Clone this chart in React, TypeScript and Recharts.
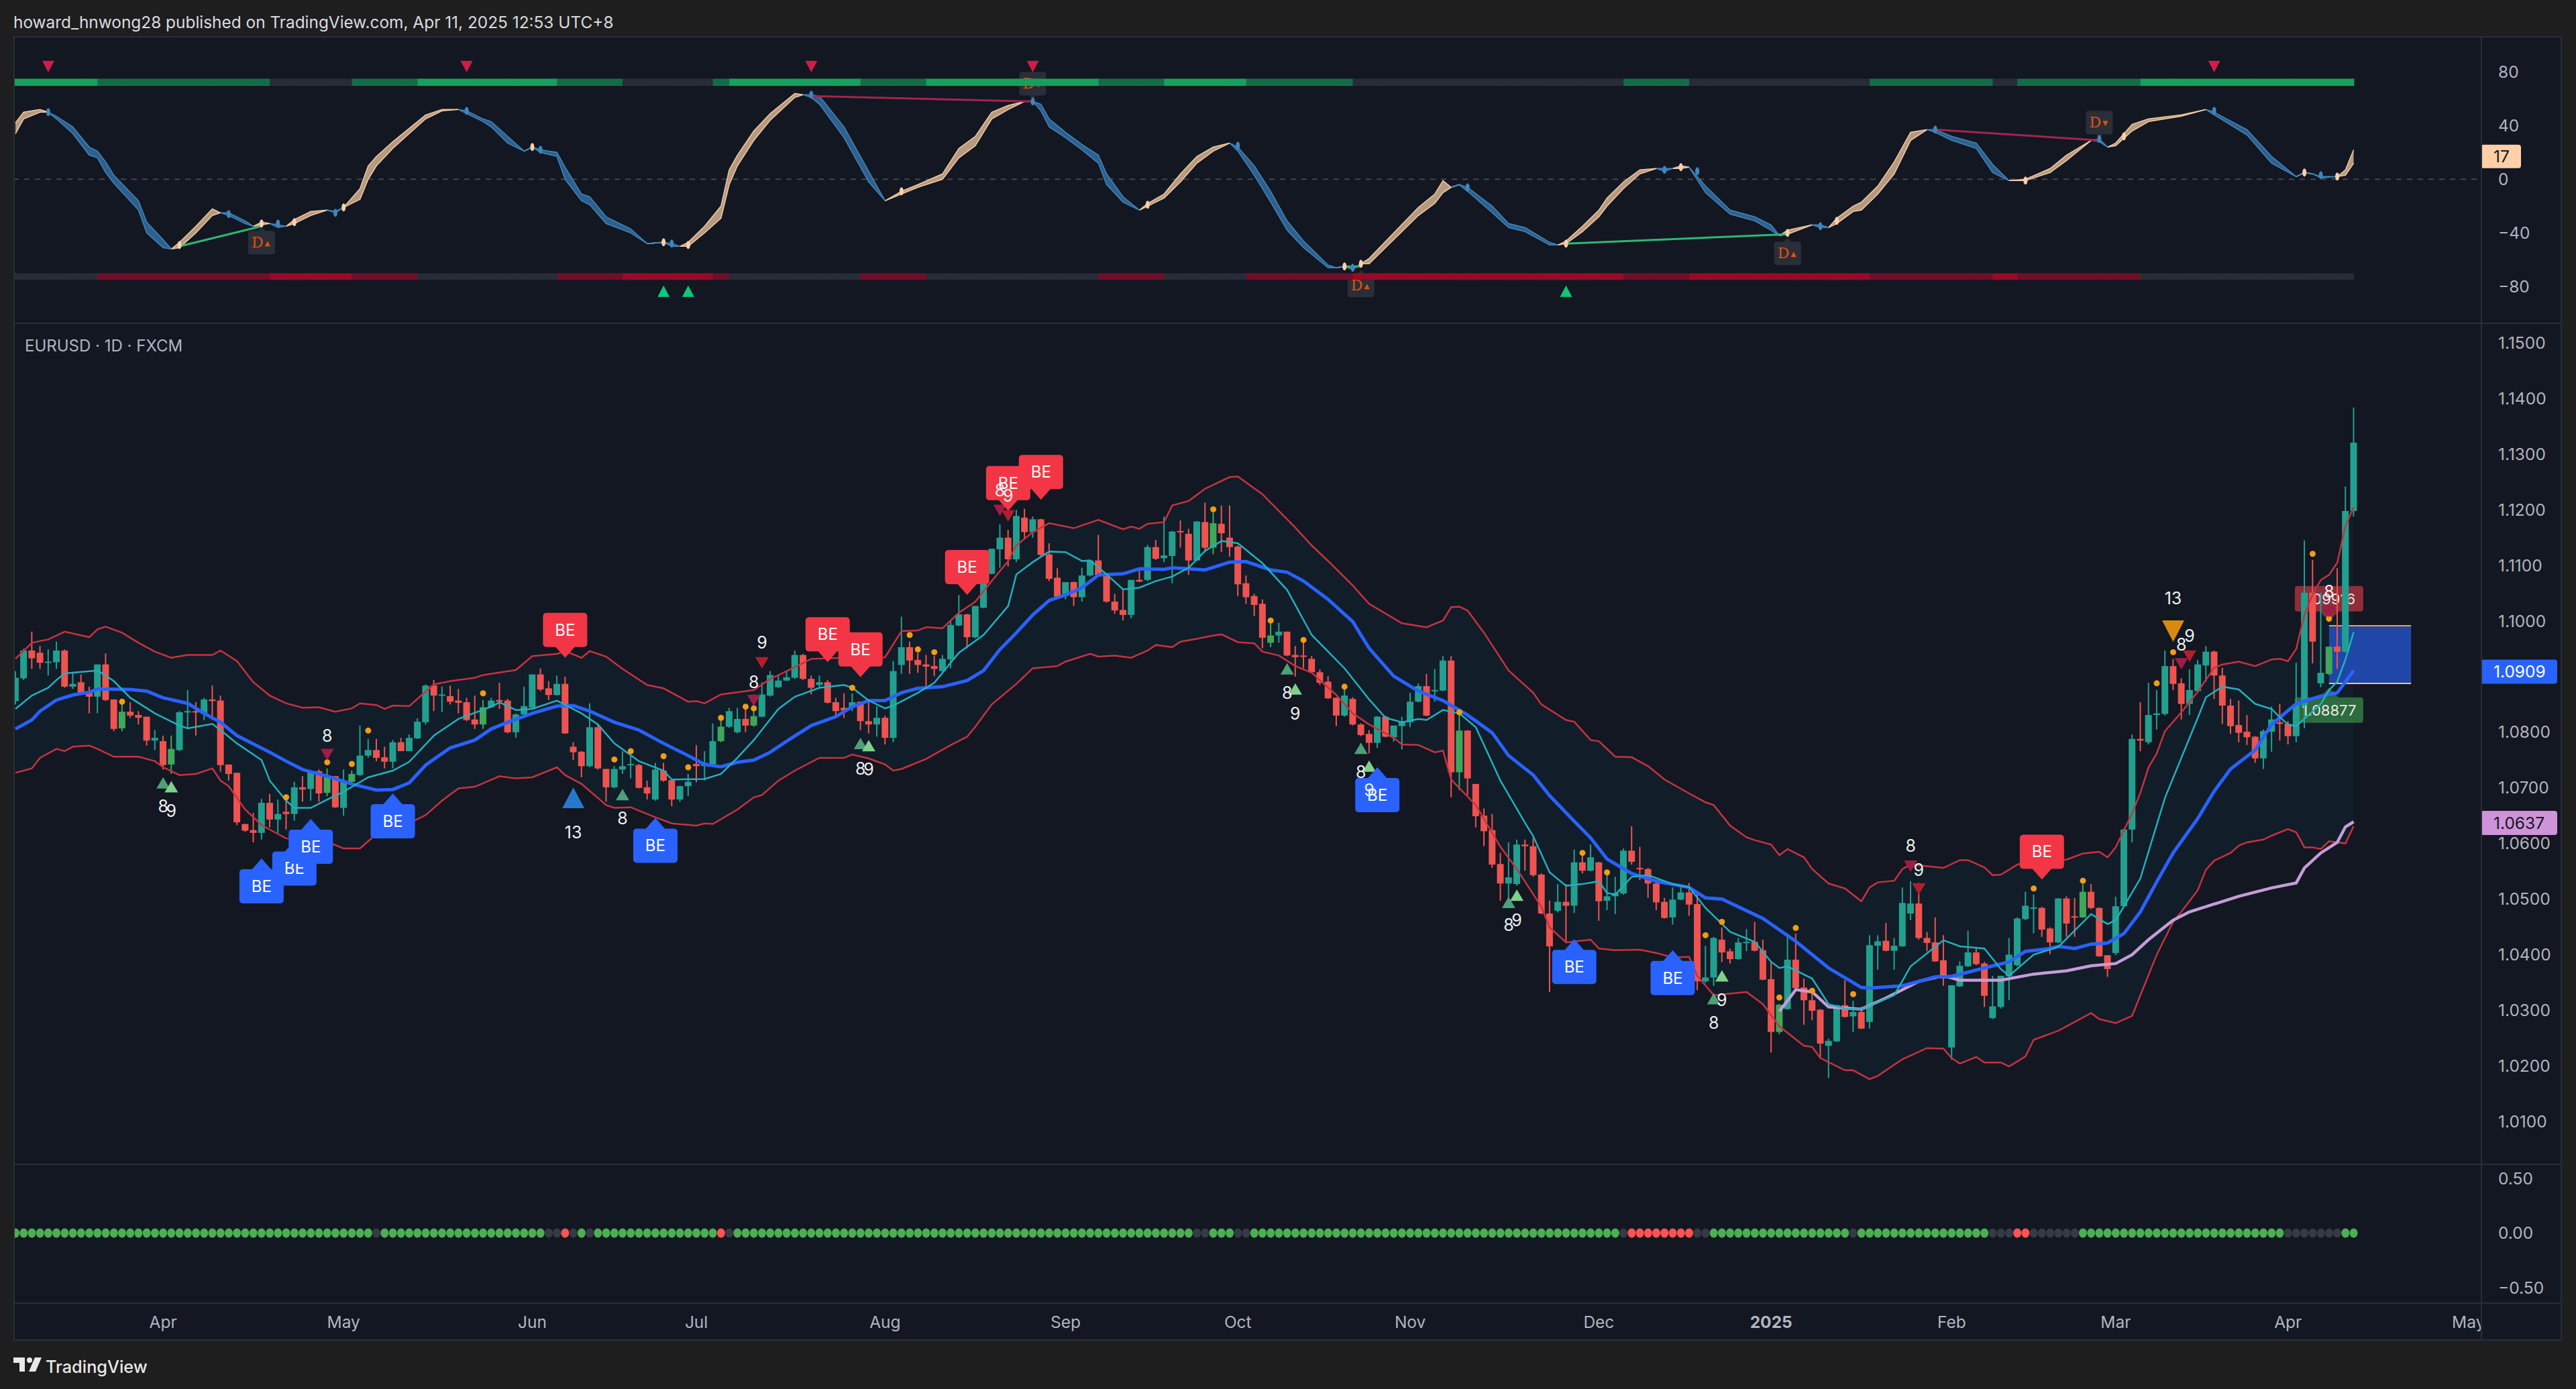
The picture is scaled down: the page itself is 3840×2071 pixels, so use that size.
import {
  Area,
  Bar,
  ComposedChart,
  Line,
  ReferenceArea,
  ReferenceDot,
  ReferenceLine,
  XAxis,
  YAxis,
} from "recharts";

// EURUSD daily, prices are written in 1/10000 (10856 = 1.0856)
const opens = [
  10856, 10897, 10947, 10943, 10926, 10926, 10947, 10882, 10890, 10872, 10864, 10922, 10859, 10807, 10837, 10831, 10828, 10785, 10784, 10742,
  10768, 10836, 10838, 10833, 10859, 10857, 10742, 10727, 10635, 10624, 10619, 10673, 10643, 10657, 10653, 10701, 10698, 10730, 10691, 10721,
  10664, 10711, 10723, 10758, 10768, 10755, 10747, 10782, 10766, 10789, 10818, 10884, 10867, 10865, 10857, 10854, 10823, 10814, 10845, 10858,
  10857, 10800, 10832, 10844, 10904, 10879, 10867, 10887, 10774, 10765, 10739, 10809, 10734, 10701, 10733, 10741, 10741, 10701, 10679, 10731,
  10714, 10679, 10703, 10743, 10739, 10739, 10784, 10810, 10800, 10824, 10812, 10828, 10866, 10881, 10893, 10898, 10939, 10896, 10885, 10890,
  10854, 10844, 10845, 10855, 10820, 10814, 10826, 10790, 10921, 10953, 10930, 10922, 10919, 10910, 10931, 10992, 11012, 10971, 11024, 11085,
  11129, 11150, 11111, 11186, 11160, 11183, 11120, 11078, 11045, 11070, 11043, 11082, 11109, 11084, 11035, 11020, 11011, 11074, 11074, 11133,
  11113, 11117, 11162, 11157, 11109, 11178, 11132, 11175, 11150, 11134, 11068, 11045, 11031, 10961, 10974, 10981, 10939, 10938, 10932, 10908,
  10891, 10862, 10830, 10860, 10814, 10797, 10781, 10828, 10791, 10811, 10818, 10855, 10883, 10874, 10875, 10929, 10728, 10803, 10707, 10650,
  10624, 10563, 10528, 10527, 10598, 10595, 10544, 10474, 10479, 10495, 10488, 10566, 10551, 10566, 10497, 10505, 10510, 10587, 10556, 10554,
  10528, 10495, 10467, 10499, 10512, 10491, 10352, 10359, 10427, 10406, 10392, 10421, 10423, 10408, 10356, 10261, 10302, 10391, 10341, 10318,
  10301, 10236, 10244, 10309, 10289, 10297, 10279, 10416, 10425, 10407, 10415, 10474, 10492, 10430, 10422, 10390, 10233, 10343, 10379, 10404,
  10384, 10286, 10306, 10361, 10381, 10464, 10484, 10484, 10447, 10422, 10501, 10469, 10467, 10513, 10484, 10399, 10403, 10487, 10625, 10788,
  10782, 10831, 10833, 10919, 10888, 10851, 10874, 10920, 10945, 10902, 10848, 10813, 10801, 10792, 10753, 10801, 10818, 10815, 10793, 10848,
  11051, 10888, 10905, 10954, 10945, 11198,
];
const closes = [
  10898, 10947, 10933, 10925, 10927, 10947, 10882, 10887, 10870, 10864, 10922, 10858, 10806, 10837, 10830, 10826, 10785, 10790, 10741, 10770,
  10836, 10838, 10837, 10859, 10856, 10741, 10725, 10638, 10623, 10619, 10673, 10643, 10653, 10653, 10701, 10697, 10730, 10690, 10721, 10665,
  10711, 10725, 10758, 10768, 10754, 10747, 10782, 10766, 10790, 10819, 10884, 10866, 10868, 10855, 10853, 10822, 10814, 10845, 10857, 10855,
  10800, 10832, 10847, 10904, 10877, 10867, 10887, 10798, 10764, 10739, 10809, 10735, 10701, 10734, 10739, 10743, 10700, 10690, 10733, 10713,
  10679, 10703, 10711, 10739, 10745, 10784, 10810, 10838, 10824, 10812, 10829, 10868, 10903, 10893, 10899, 10939, 10896, 10880, 10890, 10853,
  10838, 10839, 10854, 10820, 10814, 10826, 10790, 10910, 10953, 10929, 10921, 10918, 10914, 10932, 10993, 11012, 10971, 11027, 11085, 11130,
  11150, 11111, 11189, 11160, 11183, 11119, 11076, 11044, 11070, 11043, 11082, 11109, 11083, 11035, 11019, 11011, 11074, 11071, 11133, 11112,
  11118, 11161, 11160, 11109, 11179, 11132, 11176, 11158, 11133, 11066, 11043, 11029, 10970, 10974, 10981, 10938, 10935, 10936, 10908, 10889,
  10861, 10830, 10866, 10814, 10795, 10781, 10828, 10792, 10812, 10819, 10855, 10883, 10830, 10876, 10929, 10728, 10803, 10717, 10649, 10622,
  10562, 10528, 10539, 10598, 10595, 10543, 10474, 10415, 10495, 10488, 10566, 10551, 10575, 10496, 10505, 10511, 10587, 10567, 10555, 10528,
  10494, 10466, 10499, 10512, 10490, 10352, 10359, 10430, 10404, 10392, 10422, 10423, 10407, 10355, 10261, 10310, 10391, 10340, 10318, 10299,
  10240, 10245, 10309, 10288, 10297, 10267, 10417, 10424, 10407, 10416, 10493, 10492, 10430, 10421, 10388, 10357, 10345, 10380, 10404, 10383,
  10326, 10307, 10362, 10400, 10465, 10488, 10485, 10445, 10422, 10501, 10456, 10467, 10513, 10484, 10397, 10374, 10487, 10625, 10788, 10785,
  10831, 10834, 10919, 10887, 10851, 10876, 10922, 10945, 10902, 10848, 10811, 10799, 10791, 10753, 10802, 10823, 10815, 10793, 10850, 11051,
  10963, 10907, 10954, 10945, 11198, 11321,
];
const highs = [
  10910, 10950, 10981, 10955, 10949, 10963, 10949, 10906, 10904, 10882, 10922, 10942, 10859, 10858, 10854, 10838, 10828, 10804, 10794, 10794,
  10838, 10876, 10854, 10862, 10884, 10866, 10742, 10727, 10635, 10655, 10680, 10689, 10679, 10687, 10711, 10721, 10731, 10733, 10735, 10721,
  10733, 10731, 10812, 10788, 10788, 10774, 10786, 10790, 10796, 10825, 10886, 10894, 10882, 10884, 10878, 10862, 10866, 10858, 10862, 10889,
  10860, 10834, 10882, 10904, 10915, 10892, 10902, 10900, 10782, 10766, 10852, 10816, 10734, 10739, 10766, 10758, 10743, 10713, 10745, 10745,
  10715, 10704, 10725, 10777, 10766, 10816, 10830, 10844, 10844, 10842, 10868, 10890, 10910, 10902, 10910, 10947, 10941, 10902, 10902, 10894,
  10862, 10870, 10870, 10855, 10858, 10847, 10830, 10928, 11008, 10963, 10943, 10939, 10937, 10939, 11001, 11047, 11013, 11027, 11088, 11130,
  11174, 11164, 11200, 11202, 11188, 11184, 11140, 11095, 11070, 11071, 11096, 11110, 11155, 11085, 11049, 11056, 11074, 11093, 11137, 11146,
  11188, 11162, 11181, 11166, 11180, 11213, 11196, 11208, 11208, 11136, 11082, 11049, 11039, 10999, 10997, 10981, 10955, 10963, 10937, 10913,
  10901, 10863, 10877, 10863, 10816, 10804, 10829, 10830, 10812, 10828, 10871, 10888, 10905, 10914, 10937, 10937, 10839, 10804, 10707, 10663,
  10653, 10583, 10602, 10607, 10607, 10610, 10546, 10497, 10527, 10527, 10589, 10578, 10598, 10567, 10551, 10540, 10591, 10631, 10594, 10556,
  10535, 10502, 10521, 10524, 10529, 10513, 10416, 10432, 10449, 10411, 10430, 10446, 10459, 10427, 10387, 10311, 10438, 10438, 10357, 10330,
  10302, 10249, 10310, 10354, 10317, 10306, 10435, 10435, 10457, 10430, 10521, 10532, 10529, 10441, 10467, 10435, 10345, 10388, 10443, 10414,
  10387, 10362, 10362, 10430, 10467, 10513, 10508, 10486, 10449, 10502, 10505, 10502, 10527, 10527, 10485, 10399, 10504, 10627, 10796, 10854,
  10889, 10876, 10947, 10932, 10897, 10913, 10930, 10955, 10947, 10916, 10860, 10857, 10831, 10793, 10805, 10846, 10851, 10820, 10925, 11145,
  11110, 11051, 10954, 11095, 11242, 11384,
];
const lows = [
  10850, 10894, 10914, 10914, 10902, 10914, 10880, 10878, 10868, 10834, 10834, 10856, 10802, 10802, 10826, 10814, 10776, 10768, 10733, 10725,
  10766, 10806, 10794, 10822, 10822, 10729, 10713, 10633, 10621, 10602, 10607, 10629, 10619, 10625, 10641, 10675, 10677, 10675, 10685, 10664,
  10650, 10708, 10721, 10754, 10748, 10735, 10735, 10766, 10766, 10788, 10814, 10838, 10836, 10850, 10834, 10820, 10806, 10806, 10844, 10842,
  10798, 10790, 10830, 10842, 10874, 10858, 10866, 10797, 10750, 10719, 10737, 10733, 10675, 10699, 10725, 10717, 10699, 10679, 10677, 10711,
  10667, 10675, 10685, 10710, 10713, 10737, 10782, 10808, 10798, 10800, 10810, 10827, 10864, 10880, 10892, 10896, 10894, 10868, 10880, 10852,
  10828, 10826, 10838, 10804, 10798, 10792, 10778, 10782, 10905, 10905, 10907, 10883, 10901, 10909, 10915, 10991, 10951, 10969, 11023, 11084,
  11096, 11098, 11106, 11148, 11150, 11116, 11072, 11043, 11039, 11027, 11035, 11080, 11082, 11033, 11013, 11001, 11005, 11070, 11072, 11110,
  11106, 11068, 11132, 11083, 11108, 11126, 11120, 11124, 11116, 11045, 11031, 11009, 10951, 10953, 10961, 10937, 10900, 10915, 10907, 10885,
  10860, 10811, 10828, 10812, 10793, 10762, 10772, 10791, 10783, 10769, 10809, 10854, 10829, 10855, 10874, 10683, 10696, 10687, 10629, 10595,
  10556, 10497, 10494, 10524, 10551, 10540, 10473, 10333, 10476, 10422, 10475, 10546, 10550, 10461, 10480, 10473, 10508, 10562, 10534, 10502,
  10480, 10465, 10454, 10498, 10470, 10336, 10349, 10344, 10387, 10384, 10391, 10406, 10406, 10354, 10224, 10257, 10301, 10338, 10274, 10282,
  10214, 10178, 10243, 10287, 10261, 10266, 10267, 10373, 10406, 10373, 10414, 10462, 10427, 10406, 10387, 10344, 10211, 10342, 10378, 10381,
  10306, 10284, 10303, 10318, 10379, 10462, 10438, 10432, 10401, 10421, 10432, 10432, 10466, 10482, 10396, 10360, 10399, 10486, 10602, 10766,
  10778, 10805, 10830, 10876, 10823, 10831, 10873, 10891, 10860, 10815, 10797, 10782, 10777, 10745, 10734, 10765, 10785, 10778, 10782, 10807,
  10924, 10881, 10903, 10914, 10943, 11188,
];
// candles drawn in the lighter green
const brightBars = [13, 19, 38, 41, 57, 86, 90, 146, 153, 176, 215, 252, 282];

type Pt = [number, number];

const upperBand: Pt[] = [
  [0, 10932], [2, 10961], [4, 10967], [6, 10981], [9, 10971], [10, 10985], [11, 10990], [13, 10979], [15, 10961], [17, 10945], [19, 10934], [21, 10939],
  [24, 10939], [25, 10947], [27, 10928], [29, 10890], [31, 10866], [33, 10852], [35, 10844], [37, 10845], [39, 10837], [41, 10843], [42, 10852], [44, 10849],
  [45, 10842], [46, 10848], [48, 10847], [49, 10860], [51, 10886], [53, 10892], [56, 10898], [57, 10903], [61, 10912], [63, 10937], [66, 10941], [67, 10946],
  [69, 10934], [70, 10946], [72, 10936], [74, 10914], [77, 10885], [79, 10879], [82, 10855], [83, 10856], [84, 10852], [86, 10868], [89, 10874], [90, 10876],
  [92, 10896], [94, 10910], [97, 10932], [101, 10934], [106, 10935], [108, 10982], [110, 10983], [111, 10989], [113, 10987], [114, 11001], [115, 11015],
  [117, 11035], [119, 11072], [121, 11108], [122, 11136], [124, 11160], [126, 11176], [129, 11167], [132, 11182], [135, 11165], [136, 11170], [137, 11166],
  [138, 11175], [140, 11178], [141, 11208], [143, 11216], [145, 11238], [148, 11259], [149, 11260], [152, 11228], [156, 11168], [158, 11136], [160, 11108],
  [163, 11064], [165, 11031], [169, 10996], [172, 10989], [174, 11001], [175, 11025], [176, 11026], [177, 11019], [179, 10979], [182, 10911], [185, 10871],
  [186, 10850], [189, 10822], [190, 10819], [192, 10786], [193, 10784], [195, 10756], [197, 10755], [199, 10739], [201, 10715], [204, 10690], [206, 10674],
  [207, 10669], [209, 10632], [211, 10611], [212, 10606], [214, 10598], [215, 10579], [216, 10590], [218, 10575], [219, 10554], [221, 10528], [223, 10519],
  [225, 10496], [226, 10521], [227, 10530], [229, 10533], [230, 10554], [231, 10562], [235, 10556], [237, 10570], [238, 10570], [240, 10557], [241, 10543],
  [242, 10544], [244, 10562], [246, 10570], [250, 10571], [252, 10582], [254, 10585], [255, 10575], [256, 10593], [258, 10654], [259, 10691], [260, 10737],
  [261, 10762], [262, 10802], [264, 10836], [266, 10873], [268, 10916], [269, 10922], [271, 10927], [273, 10919], [275, 10931], [276, 10932], [277, 10928],
  [278, 10950], [279, 11011], [280, 11048], [281, 11074], [282, 11083], [283, 11105], [284, 11171], [285, 11205],
];
const lowerBand: Pt[] = [
  [0, 10727], [2, 10735], [3, 10754], [5, 10770], [6, 10766], [7, 10774], [9, 10776], [10, 10770], [12, 10756], [15, 10756], [17, 10748], [18, 10737],
  [20, 10723], [22, 10725], [24, 10735], [25, 10713], [26, 10703], [28, 10661], [30, 10633], [32, 10617], [33, 10609], [35, 10608], [37, 10602], [38, 10603],
  [40, 10591], [42, 10591], [44, 10617], [47, 10629], [50, 10651], [52, 10677], [54, 10699], [56, 10702], [59, 10721], [61, 10717], [63, 10719], [66, 10737],
  [67, 10723], [69, 10707], [72, 10669], [73, 10664], [75, 10665], [78, 10647], [80, 10636], [83, 10632], [84, 10636], [85, 10635], [88, 10661], [90, 10683],
  [91, 10687], [93, 10713], [95, 10731], [98, 10754], [101, 10754], [102, 10760], [104, 10753], [106, 10742], [107, 10731], [108, 10734], [111, 10752],
  [114, 10777], [116, 10792], [117, 10810], [119, 10850], [122, 10887], [124, 10915], [127, 10919], [128, 10927], [131, 10941], [132, 10936], [134, 10938],
  [136, 10934], [138, 10947], [139, 10957], [141, 10953], [142, 10963], [144, 10968], [146, 10974], [147, 10976], [149, 10962], [151, 10960], [152, 10945],
  [154, 10938], [156, 10919], [158, 10907], [161, 10867], [163, 10834], [165, 10814], [168, 10790], [169, 10778], [171, 10777], [173, 10764], [174, 10767],
  [175, 10715], [178, 10669], [181, 10594], [183, 10554], [186, 10486], [187, 10449], [189, 10422], [192, 10427], [193, 10411], [195, 10408], [198, 10409],
  [200, 10403], [202, 10395], [204, 10396], [205, 10362], [207, 10327], [211, 10333], [213, 10311], [215, 10271], [218, 10236], [219, 10234], [220, 10214],
  [223, 10192], [224, 10192], [226, 10176], [227, 10182], [230, 10212], [233, 10232], [235, 10231], [236, 10214], [237, 10204], [239, 10216], [240, 10206],
  [242, 10206], [243, 10199], [245, 10217], [246, 10247], [249, 10263], [253, 10295], [254, 10284], [256, 10277], [258, 10290], [261, 10400], [263, 10459],
  [264, 10477], [266, 10516], [267, 10553], [268, 10569], [270, 10583], [271, 10596], [272, 10602], [274, 10607], [275, 10614], [277, 10626], [278, 10620],
  [279, 10593], [280, 10593], [281, 10590], [282, 10604], [284, 10600], [285, 10631],
];
const basisLine: Pt[] = [
  [0, 10806], [2, 10822], [3, 10838], [5, 10858], [7, 10867], [9, 10872], [10, 10878], [14, 10877], [16, 10874], [18, 10862], [21, 10852], [23, 10834],
  [25, 10818], [27, 10794], [31, 10764], [33, 10748], [35, 10733], [38, 10721], [41, 10707], [44, 10696], [46, 10697], [48, 10709], [50, 10741], [53, 10772],
  [56, 10786], [58, 10806], [60, 10818], [63, 10834], [66, 10847], [68, 10848], [70, 10838], [73, 10818], [76, 10804], [79, 10780], [82, 10758], [84, 10742],
  [86, 10738], [88, 10746], [90, 10750], [92, 10764], [94, 10784], [97, 10812], [100, 10828], [102, 10846], [104, 10857], [106, 10857], [108, 10871], [110, 10879],
  [113, 10882], [116, 10893], [118, 10911], [120, 10949], [122, 10979], [124, 11011], [126, 11037], [128, 11047], [130, 11060], [132, 11083], [135, 11085],
  [137, 11094], [140, 11093], [141, 11096], [145, 11092], [148, 11106], [150, 11107], [153, 11092], [155, 11088], [157, 11072], [160, 11039], [163, 10999],
  [165, 10951], [168, 10901], [171, 10874], [174, 10857], [177, 10831], [180, 10799], [182, 10758], [185, 10723], [187, 10686], [190, 10640], [192, 10610],
  [194, 10572], [197, 10546], [200, 10532], [204, 10521], [206, 10502], [208, 10500], [213, 10465], [217, 10424], [221, 10376], [225, 10341], [226, 10340],
  [230, 10344], [234, 10360], [236, 10361], [240, 10376], [243, 10387], [245, 10406], [248, 10411], [249, 10415], [251, 10411], [253, 10419], [255, 10421],
  [257, 10438], [259, 10477], [261, 10531], [263, 10583], [266, 10645], [268, 10694], [270, 10734], [273, 10768], [275, 10814], [277, 10839], [278, 10851],
  [281, 10865], [283, 10871], [284, 10891], [285, 10911],
];
const fastLine: Pt[] = [
  [0, 10842], [2, 10866], [4, 10880], [5, 10894], [6, 10906], [10, 10911], [11, 10902], [12, 10892], [14, 10862], [17, 10834], [20, 10812], [21, 10807],
  [24, 10815], [25, 10804], [27, 10780], [30, 10750], [31, 10713], [33, 10677], [34, 10664], [36, 10664], [38, 10679], [40, 10693], [43, 10719], [46, 10731],
  [48, 10747], [51, 10794], [54, 10824], [58, 10846], [59, 10854], [61, 10840], [63, 10842], [66, 10857], [69, 10834], [71, 10814], [73, 10780], [76, 10748],
  [79, 10731], [80, 10715], [84, 10716], [86, 10725], [88, 10754], [90, 10786], [93, 10842], [95, 10864], [98, 10880], [101, 10885], [102, 10880], [104, 10857],
  [106, 10843], [107, 10848], [110, 10871], [112, 10889], [115, 10943], [118, 10975], [121, 11027], [122, 11084], [124, 11106], [126, 11125], [128, 11124],
  [130, 11108], [131, 11109], [133, 11084], [135, 11057], [137, 11060], [139, 11072], [141, 11080], [143, 11096], [145, 11126], [147, 11144], [149, 11140],
  [152, 11104], [155, 11056], [158, 10975], [162, 10915], [165, 10859], [167, 10826], [169, 10818], [171, 10824], [172, 10822], [174, 10840], [176, 10834],
  [178, 10809], [181, 10713], [184, 10637], [185, 10613], [187, 10548], [189, 10524], [191, 10527], [193, 10532], [194, 10511], [195, 10508], [197, 10540],
  [199, 10543], [202, 10527], [204, 10521], [206, 10484], [209, 10441], [212, 10423], [214, 10387], [215, 10376], [216, 10379], [219, 10357], [221, 10311],
  [223, 10303], [225, 10302], [229, 10327], [231, 10379], [235, 10426], [237, 10415], [240, 10411], [242, 10374], [243, 10362], [246, 10400], [249, 10414],
  [253, 10473], [255, 10455], [256, 10462], [259, 10537], [262, 10682], [266, 10826], [267, 10863], [269, 10882], [271, 10877], [273, 10851], [275, 10842],
  [276, 10827], [277, 10814], [278, 10811], [281, 10851], [282, 10876], [283, 10891], [284, 10931], [285, 10980],
];
const slowLine: Pt[] = [
  [215, 10298], [216, 10317], [217, 10337], [219, 10333], [221, 10306], [225, 10302], [228, 10322], [232, 10352], [235, 10362], [237, 10354], [242, 10354],
  [246, 10365], [250, 10371], [253, 10380], [256, 10384], [258, 10400], [260, 10427], [263, 10462], [265, 10477], [268, 10491], [271, 10505], [275, 10520],
  [278, 10529], [279, 10556], [281, 10583], [283, 10602], [284, 10630], [285, 10639],
];

// [bar, fast, slow] of the top oscillator; equal values mark the turning bars
const oscPoints: [number, number, number][] = [
  [0, 42, 34], [1, 50, 45], [3, 52, 50], [4, 50, 50], [5, 45, 47], [7, 34, 39], [9, 18, 24], [10, 16, 21], [11, 5, 13], [12, -3, 3], [15, -23, -16], [16, -40, -32],
  [18, -51, -45], [19, -52, -52], [20, -47, -51], [22, -35, -40], [24, -22, -27], [25, -25, -25], [26, -27, -25], [28, -33, -31], [29, -35, -35], [30, -32, -34],
  [31, -33, -33], [32, -36, -34], [33, -35, -35], [34, -30, -33], [36, -24, -27], [38, -23, -23], [39, -25, -24], [40, -21, -21], [42, -7, -15], [43, 10, 0], [44, 17, 10],
  [46, 28, 23], [48, 38, 34], [50, 48, 45], [52, 52, 51], [54, 52, 52], [55, 49, 51], [57, 43, 45], [58, 39, 43], [60, 27, 32], [62, 21, 21], [63, 24, 24], [64, 20, 22],
  [66, 17, 20], [67, 0, 9], [69, -16, -11], [70, -19, -13], [72, -33, -28], [75, -40, -37], [77, -48, -48], [79, -47, -47], [80, -50, -48], [81, -50, -50], [82, -47, -50],
  [84, -35, -40], [86, -20, -29], [87, 7, -4], [88, 18, 10], [90, 36, 29], [92, 49, 44], [95, 64, 61], [96, 63, 63], [97, 61, 63], [98, 56, 62], [101, 31, 39], [104, -2, 6],
  [106, -16, -16], [108, -9, -11], [110, -4, -6], [113, 4, 0], [115, 23, 16], [117, 32, 25], [119, 50, 45], [121, 55, 52], [123, 58, 58], [124, 58, 58], [125, 51, 56],
  [126, 39, 45], [128, 31, 35], [130, 22, 26], [132, 12, 18], [133, -4, 4], [135, -17, -13], [137, -23, -23], [138, -18, -20], [140, -11, -14], [142, 4, -2], [144, 17, 12],
  [146, 24, 21], [148, 27, 27], [149, 21, 24], [151, 3, 10], [153, -17, -9], [155, -38, -31], [157, -51, -46], [160, -66, -64], [161, -66, -66], [162, -65, -65],
  [163, -67, -67], [164, -63, -63], [165, -59, -63], [168, -40, -45], [171, -21, -27], [173, -11, -18], [174, -1, -10], [175, -6, -6], [176, -4, -4], [177, -9, -6],
  [180, -25, -20], [182, -36, -33], [184, -39, -36], [187, -49, -47], [188, -49, -49], [189, -46, -48], [191, -35, -39], [193, -23, -28], [194, -14, -20], [196, -2, -7],
  [198, 7, 4], [200, 8, 8], [201, 6, 8], [202, 8, 8], [203, 10, 8], [204, 9, 9], [206, -10, -5], [209, -26, -23], [212, -31, -28], [214, -38, -34], [215, -42, -42],
  [216, -38, -41], [219, -34, -34], [220, -36, -34], [221, -36, -36], [222, -29, -33], [224, -20, -24], [225, -17, -23], [227, -5, -11], [229, 13, 4], [231, 35, 29],
  [233, 37, 37], [234, 35, 37], [236, 29, 32], [239, 23, 27], [241, 5, 11], [243, -1, -1], [245, 0, -1], [248, 8, 5], [250, 18, 14], [253, 29, 29], [254, 28, 30],
  [255, 24, 24], [256, 27, 25], [258, 41, 36], [260, 45, 43], [264, 48, 47], [267, 52, 52], [268, 48, 50], [272, 33, 37], [275, 12, 17], [278, 2, 2], [279, 5, 5],
  [280, 4, 4], [281, 1, 2], [283, 2, 2], [284, 7, 3], [285, 22, 12],
];
const oscTanDots: Pt[] = [
  [20, -49], [30, -33], [34, -32], [40, -21], [63, 24], [79, -47], [82, -49], [108, -9], [138, -19], [162, -65], [164, -63], [189, -48], [203, 9], [216, -40], [222, -31],
  [245, -1], [257, 32], [279, 5], [283, 2],
];
const oscBlueDots: Pt[] = [
  [4, 50], [26, -26], [32, -33], [39, -25], [55, 51], [64, 22], [80, -48], [97, 63], [124, 58], [149, 25], [163, -66], [177, -6], [201, 7], [205, 6], [220, -35], [234, 37],
  [254, 30], [268, 51], [281, 3],
];
// [from bar, to bar, level]: 2 strong, 1 mild, 0 neutral. Top strip reads it, bottom strip reads it reversed
const heatRuns = [
  [0, 11, 2], [11, 32, 1], [32, 42, 0], [42, 50, 1], [50, 67, 2], [67, 75, 1], [75, 86, 0], [86, 88, 1], [88, 104, 2], [104, 112, 1], [112, 133, 2], [133, 141, 1], [141, 151, 2],
  [151, 164, 1], [164, 197, 0], [197, 205, 1], [205, 227, 0], [227, 242, 1], [242, 245, 0], [245, 260, 1], [260, 286, 2],
];
const oscSellBars = [4, 55, 97, 124, 268];
const oscBuyBars = [79, 82, 189];
const divergences: [number, number, number, number, string][] = [
  [20, -50, 30, -35, "#2fb872"],
  [97, 62, 124, 58, "#a5244c"],
  [162, -65, 164, -65, "#2fb872"],
  [189, -48, 216, -41, "#2fb872"],
  [234, 37, 254, 29, "#a5244c"],
];
const divergenceTags: [number, number, string][] = [
  [30, -36, "up"],
  [124, 60, "down"],
  [164, -68, "up"],
  [216, -44, "up"],
  [254, 31, "down"],
];

// main pane signals, [bar, price]
const beSellTips: Pt[] = [[67, 10934], [99, 10926], [103, 10899], [116, 11047], [121, 11198], [125, 11218], [247, 10535]];
const beBuyTips: Pt[] = [[30, 10573], [34, 10605], [36, 10644], [46, 10690], [78, 10646], [166, 10737], [190, 10428], [202, 10408]];
const orangeDots: Pt[] = [
  [13, 10855], [33, 10683], [38, 10746], [41, 10743], [43, 10803], [57, 10870], [73, 10751], [75, 10766], [79, 10757], [82, 10737], [86, 10826], [89, 10846], [90, 10843],
  [102, 10880], [109, 10975], [110, 10949], [112, 10944], [146, 11201], [153, 11001], [157, 10966], [162, 10882], [176, 10836], [191, 10583], [194, 10548], [206, 10435],
  [208, 10459], [215, 10323], [217, 10448], [219, 10335], [224, 10329], [246, 10519], [252, 10533], [261, 10888], [263, 10944], [280, 11121], [282, 11004],
];
const downCrimson: Pt[] = [[38, 10760], [90, 10857], [120, 11199], [231, 10559], [264, 10923], [282, 11017]];
const downRed: Pt[] = [[91, 10925], [121, 11189], [232, 10518], [265, 10937]];
const upDark: Pt[] = [[18, 10709], [74, 10688], [103, 10780], [155, 10914], [164, 10771], [182, 10494], [207, 10321]];
const upLight: Pt[] = [[19, 10702], [104, 10776], [156, 10878], [165, 10739], [183, 10507], [208, 10362]];
const countLabels: [number, number, string][] = [
  [18, 10667, "8"], [19, 10659, "9"], [38, 10794, "8"], [68, 10620, "13"], [74, 10645, "8"], [90, 10890, "8"], [91, 10962, "9"], [103, 10735, "8"], [104, 10733, "9"],
  [120, 11235, "8"], [121, 11225, "9"], [155, 10871, "8"], [156, 10834, "9"], [164, 10728, "8"], [165, 10696, "9"], [182, 10453, "8"], [183, 10462, "9"], [207, 10278, "8"],
  [208, 10318, "9"], [231, 10596, "8"], [232, 10552, "9"], [263, 11041, "13"], [264, 10958, "8"], [265, 10974, "9"], [282, 11053, "8"],
];

// squeeze dots, [from bar, to bar, state]
const squeezeRuns: [number, number, string][] = [
  [0, 43, "on"], [44, 44, "off"], [45, 64, "on"], [65, 66, "off"], [67, 67, "fire"], [68, 68, "off"], [69, 69, "on"], [70, 70, "off"], [71, 85, "on"], [86, 86, "fire"],
  [87, 87, "off"], [88, 143, "on"], [144, 145, "off"], [146, 148, "on"], [149, 150, "off"], [151, 195, "on"], [196, 196, "off"], [197, 204, "fire"], [205, 206, "off"],
  [207, 223, "on"], [224, 224, "off"], [225, 240, "on"], [241, 243, "off"], [244, 245, "fire"], [246, 251, "off"], [252, 276, "on"], [277, 283, "off"], [284, 285, "on"],
];

const monthTicks = [18, 40, 63, 83, 106, 128, 149, 170, 193, 214, 236, 256, 277, 299];
const monthLabels = ["Apr", "May", "Jun", "Jul", "Aug", "Sep", "Oct", "Nov", "Dec", "2025", "Feb", "Mar", "Apr", "May"];
// 1.0900 sits behind the last price tag, so it is not listed
const priceTicks = [1.01, 1.02, 1.03, 1.04, 1.05, 1.06, 1.07, 1.08, 1.1, 1.11, 1.12, 1.13, 1.14, 1.15];
const oscTicks = [-80, -40, 0, 40, 80];
const squeezeTicks = [-0.5, 0, 0.5];

const BG = "#1e1e1e";
const PANEL = "#121722";
const BAND = "#111d29";
const LINE = "#2a2e39";
const AXIS_TEXT = "#b2b5be";
const FONT = "Inter, sans-serif";
const GREEN = "#22a08f";
const BRIGHT = "#3fa75a";
const RED = "#ef5350";
const X_MIN = -0.245;
const X_MAX = 300.49;
const CHART_W = 3799;
const AXIS_W = 121;
const OSC_DOMAIN = [-107.35, 106.65];
const PRICE_DOMAIN = [1.00229, 1.15356];

const toPrice = (v: number) => v / 10000;

const rows: any[] = opens.map((o, i) => ({
  i,
  open: toPrice(o),
  close: toPrice(closes[i]),
  high: toPrice(highs[i]),
  low: toPrice(lows[i]),
  range: [toPrice(lows[i]), toPrice(highs[i])],
  bright: brightBars.includes(i),
  zero: 0,
}));
const attach = (list: Pt[], key: string) => list.forEach(([i, v]) => (rows[i][key] = toPrice(v)));
attach(upperBand, "upper");
attach(lowerBand, "lower");
attach(basisLine, "basis");
attach(fastLine, "fast");
attach(slowLine, "slow");
heatRuns.forEach(([a, b, level]) => {
  for (let i = a; i < b; i++) {
    rows[i].level = level;
    rows[i].topStrip = [69.6, 75];
    rows[i].bottomStrip = [-75, -70];
  }
});
squeezeRuns.forEach(([a, b, state]) => {
  for (let i = a; i <= b; i++) rows[i].squeeze = state;
});

const oscRows = oscPoints.map(([i, fast, slow]) => ({
  i,
  rising: fast >= slow ? [slow, fast] : null,
  falling: fast <= slow ? [fast, slow] : null,
}));

const Candle = (p: any) => {
  const { x, y, width, height, payload } = p;
  const perPrice = height / (payload.high - payload.low || 1);
  const up = payload.close >= payload.open;
  const color = up ? (payload.bright ? BRIGHT : GREEN) : RED;
  const top = y + (payload.high - Math.max(payload.open, payload.close)) * perPrice;
  const bodyH = Math.max(Math.abs(payload.close - payload.open) * perPrice, 2);
  const mid = x + width / 2;
  return (
    <g>
      <rect x={mid - 1} y={y} width={2} height={height} fill={color} />
      <rect x={x} y={top} width={width} height={bodyH} fill={color} />
    </g>
  );
};

// each strip cell runs from the previous bar's centre to this bar's centre
const Strip = (colors: string[], flip: boolean) => (p: any) => {
  const { x, y, width, height, payload } = p;
  if (payload.level === undefined) return <g />;
  const fill = colors[flip ? 2 - payload.level : payload.level];
  return <rect x={x - width / 2} y={y} width={width + 1} height={height} fill={fill} />;
};

const triangle = (color: string, w: number, h: number, down: boolean) => (p: any) => {
  const { cx, cy } = p;
  const pts = down
    ? `${cx - w / 2},${cy - h / 2} ${cx + w / 2},${cy - h / 2} ${cx},${cy + h / 2}`
    : `${cx - w / 2},${cy + h / 2} ${cx + w / 2},${cy + h / 2} ${cx},${cy - h / 2}`;
  return <polygon points={pts} fill={color} />;
};

const beLabel = (color: string, sell: boolean) => (p: any) => {
  const { cx, cy } = p;
  const dir = sell ? -1 : 1;
  const boxY = sell ? cy - 67 : cy + 16;
  return (
    <g>
      <polygon points={`${cx},${cy} ${cx - 15},${cy + dir * 17} ${cx + 15},${cy + dir * 17}`} fill={color} />
      <rect x={cx - 33} y={boxY} width={66} height={51} rx={5} fill={color} />
      <text x={cx} y={boxY + 34} textAnchor="middle" fontFamily={FONT} fontSize={24} fill="#fff">
        BE
      </text>
    </g>
  );
};

const priceTag = (text: string, bg: string, fg: string, w: number, h: number) => (p: any) => (
  <g>
    <rect x={p.cx} y={p.cy - h / 2} width={w} height={h} rx={4} fill={bg} />
    <text x={p.cx + 19} y={p.cy + 9} fontFamily={FONT} fontSize={24.5} fill={fg}>
      {text}
    </text>
  </g>
);

const priceBox = (text: string, bg: string, sell: boolean) => (p: any) => {
  const { cx, cy } = p;
  const dir = sell ? 1 : -1;
  return (
    <g>
      <polygon points={`${cx - 14},${cy + dir * 19} ${cx + 14},${cy + dir * 19} ${cx},${cy + dir * 33}`} fill={bg} />
      <rect x={cx - 51} y={cy - 19} width={102} height={38} rx={4} fill={bg} />
      <text x={cx} y={cy + 8} textAnchor="middle" fontFamily={FONT} fontSize={22} fill="#e8e8e8">
        {text}
      </text>
    </g>
  );
};

const divergenceTag = (dir: string) => (p: any) => {
  const { cx, cy } = p;
  const down = dir === "down";
  const boxY = down ? cy - 40 : cy + 5;
  return (
    <g>
      <polygon points={`${cx - 6},${down ? cy - 5 : cy + 5} ${cx + 6},${down ? cy - 5 : cy + 5} ${cx},${cy}`} fill="#2a2e39" />
      <rect x={cx - 20} y={boxY} width={40} height={35} rx={4} fill="#2a2e39" />
      <text x={cx - 15} y={boxY + 25} fontFamily="'DejaVu Serif', serif" fontSize={22} fill="#e65100">
        D
      </text>
      <polygon
        points={
          down
            ? `${cx + 5},${boxY + 15} ${cx + 13},${boxY + 15} ${cx + 9},${boxY + 23}`
            : `${cx + 5},${boxY + 23} ${cx + 13},${boxY + 23} ${cx + 9},${boxY + 15}`
        }
        fill="#e65100"
      />
    </g>
  );
};

const SqueezeDot = (p: any) => {
  const { cx, cy, payload } = p;
  const color = payload.squeeze === "on" ? "#4caf50" : payload.squeeze === "fire" ? "#ff5252" : "#363a45";
  return <ellipse key={payload.i} cx={cx} cy={cy} rx={6} ry={7} fill={color} />;
};

const MonthTick = (p: any) => {
  const { x, y, payload } = p;
  const label = monthLabels[monthTicks.indexOf(payload.value)];
  return (
    <text x={x} y={y + 17} textAnchor="middle" fontFamily={FONT} fontSize={24.5} fontWeight={label === "2025" ? 700 : 400} fill={AXIS_TEXT}>
      {label}
    </text>
  );
};

const axisTick = { fill: AXIS_TEXT, fontSize: 24.5, fontFamily: FONT };
const minus = (s: string) => s.replace("-", "\u2212");
const noMargin = { top: 0, right: 0, bottom: 0, left: 0 };
const axisMargin = { top: 0, right: AXIS_W, bottom: 0, left: 0 };

const Logo = () => (
  <svg width={42} height={22} viewBox="0 0 42 22" style={{ position: "absolute", left: 20, top: 2024 }}>
    <path d="M0 0h17v21h-8V8H0z" fill="#e8e8e8" />
    <circle cx={24} cy={4} r={4} fill="#e8e8e8" />
    <path d="M32 0h10l-9 21H23z" fill="#e8e8e8" />
  </svg>
);

export default function App() {
  return (
    <div style={{ position: "absolute", left: 0, top: 0, width: 3840, height: 2071, background: BG, overflow: "hidden", fontFamily: FONT }}>
      <div style={{ position: "absolute", left: 20, top: 18, fontSize: 24.4, color: "#d9dbe0", whiteSpace: "nowrap" }}>
        howard_hnwong28 published on TradingView.com, Apr 11, 2025 12:53 UTC+8
      </div>
      <div style={{ position: "absolute", left: 20, top: 54, width: 3799, height: 1945, background: PANEL }} />

      {/* oscillator pane: tags sit under the strips */}
      <div style={{ position: "absolute", left: 20, top: 54 }}>
        <ComposedChart width={CHART_W} height={428} data={oscRows} margin={axisMargin}>
          <XAxis type="number" dataKey="i" domain={[X_MIN, X_MAX]} allowDataOverflow hide />
          <YAxis domain={OSC_DOMAIN} allowDataOverflow hide />
          <ReferenceLine y={0} stroke="#434651" strokeWidth={2} strokeDasharray="8 8" />
          {divergenceTags.map(([i, v, dir]) => (
            <ReferenceDot key={`tag${i}`} x={i} y={v} ifOverflow="visible" shape={divergenceTag(dir)} />
          ))}
        </ComposedChart>
      </div>

      {/* oscillator pane: strips and arrows */}
      <div style={{ position: "absolute", left: 20, top: 54 }}>
        <ComposedChart width={CHART_W} height={428} data={rows} margin={noMargin} barGap={-12}>
          <XAxis type="number" dataKey="i" domain={[X_MIN, X_MAX]} allowDataOverflow hide />
          <YAxis
            orientation="right"
            width={AXIS_W}
            domain={OSC_DOMAIN}
            allowDataOverflow
            ticks={oscTicks}
            interval={0}
            axisLine={false}
            tickLine={false}
            tickMargin={20}
            tick={axisTick}
            tickFormatter={(v: number) => minus(String(v))}
          />
          <Bar dataKey="topStrip" barSize={12} isAnimationActive={false} shape={Strip(["#272c38", "#166b47", "#16a05d"], false)} />
          <Bar dataKey="bottomStrip" barSize={12} isAnimationActive={false} shape={Strip(["#272c38", "#6e0f29", "#970a2a"], true)} />
          {oscSellBars.map((i) => (
            <ReferenceDot key={`s${i}`} x={i} y={84} ifOverflow="visible" shape={triangle("#d21c48", 18, 17, true)} />
          ))}
          {oscBuyBars.map((i) => (
            <ReferenceDot key={`b${i}`} x={i} y={-83.5} ifOverflow="visible" shape={triangle("#0fc878", 18, 17, false)} />
          ))}
          <ReferenceDot x={X_MAX} y={17} ifOverflow="visible" shape={priceTag("17", "#ffd0a6", "#131722", 60, 35)} />
        </ComposedChart>
      </div>

      {/* oscillator pane: the two lines */}
      <div style={{ position: "absolute", left: 20, top: 54 }}>
        <ComposedChart width={CHART_W} height={428} data={oscRows} margin={axisMargin}>
          <XAxis type="number" dataKey="i" domain={[X_MIN, X_MAX]} allowDataOverflow hide />
          <YAxis domain={OSC_DOMAIN} allowDataOverflow hide />
          <Area dataKey="rising" stroke="#f3c9a2" strokeWidth={1.5} fill="#b59a80" fillOpacity={1} isAnimationActive={false} />
          <Area dataKey="falling" stroke="#3f86bd" strokeWidth={1.5} fill="#2f5f8c" fillOpacity={1} isAnimationActive={false} />
          {divergences.map(([a, av, b, bv, color]) => (
            <ReferenceLine
              key={`d${a}`}
              segment={[
                { x: a, y: av },
                { x: b, y: bv },
              ]}
              stroke={color}
              strokeWidth={3}
            />
          ))}
          {oscTanDots.map(([i, v]) => (
            <ReferenceDot key={`t${i}`} x={i} y={v} shape={(p: any) => <ellipse cx={p.cx} cy={p.cy} rx={3} ry={6} fill="#ffd0a6" />} />
          ))}
          {oscBlueDots.map(([i, v]) => (
            <ReferenceDot key={`u${i}`} x={i} y={v} shape={(p: any) => <ellipse cx={p.cx} cy={p.cy} rx={3} ry={6} fill="#3f86bd" />} />
          ))}
        </ComposedChart>
      </div>

      {/* price pane: everything that lies behind the candles */}
      <div style={{ position: "absolute", left: 20, top: 482 }}>
        <ComposedChart width={CHART_W} height={1254} data={rows} margin={axisMargin}>
          <XAxis type="number" dataKey="i" domain={[X_MIN, X_MAX]} allowDataOverflow hide />
          <YAxis domain={PRICE_DOMAIN} allowDataOverflow hide />
          <Area dataKey="upper" connectNulls stroke="none" fill={BAND} fillOpacity={1} isAnimationActive={false} />
          <Area dataKey="lower" connectNulls stroke="none" fill={PANEL} fillOpacity={1} isAnimationActive={false} />
          <ReferenceArea x1={282} x2={292} y1={1.08877} y2={1.09916} fill="#2047a8" fillOpacity={1} stroke="none" />
          <ReferenceLine segment={[{ x: 282, y: 1.09916 }, { x: 292, y: 1.09916 }]} stroke="#f2a13c" strokeWidth={2} />
          <ReferenceLine segment={[{ x: 282, y: 1.08877 }, { x: 292, y: 1.08877 }]} stroke="#f5c66a" strokeWidth={2} />
          <ReferenceDot x={282} y={1.104} ifOverflow="visible" shape={priceBox("1.09916", "#8f2d3a", true)} />
          <ReferenceDot x={282} y={1.084} ifOverflow="visible" shape={priceBox("1.08877", "#2e6b3e", false)} />
        </ComposedChart>
      </div>

      {/* price pane: candles, lines and signals */}
      <div style={{ position: "absolute", left: 20, top: 482 }}>
        <ComposedChart width={CHART_W} height={1254} data={rows} margin={noMargin}>
          <XAxis type="number" dataKey="i" domain={[X_MIN, X_MAX]} allowDataOverflow hide />
          <YAxis
            orientation="right"
            width={AXIS_W}
            domain={PRICE_DOMAIN}
            allowDataOverflow
            ticks={priceTicks}
            interval={0}
            axisLine={false}
            tickLine={false}
            tickMargin={20}
            tick={axisTick}
            tickFormatter={(v: number) => v.toFixed(4)}
          />
          <Bar dataKey="range" barSize={10} isAnimationActive={false} shape={Candle} />
          <Line dataKey="upper" connectNulls stroke="#c8323f" strokeWidth={2.5} dot={false} isAnimationActive={false} />
          <Line dataKey="lower" connectNulls stroke="#c8323f" strokeWidth={2.5} dot={false} isAnimationActive={false} />
          <Line dataKey="slow" connectNulls stroke="#c59cd6" strokeWidth={4.5} dot={false} isAnimationActive={false} />
          <Line dataKey="basis" connectNulls stroke="#2962ff" strokeWidth={5} dot={false} isAnimationActive={false} />
          <Line dataKey="fast" connectNulls stroke="#22b0bd" strokeWidth={2.5} dot={false} isAnimationActive={false} />
          {orangeDots.map(([i, v]) => (
            <ReferenceDot key={`o${i}`} x={i} y={toPrice(v)} r={4.5} fill="#f39c12" stroke="none" />
          ))}
          {downCrimson.map(([i, v]) => (
            <ReferenceDot key={`dc${i}`} x={i} y={toPrice(v)} shape={triangle("#a01c44", 20, 17, true)} />
          ))}
          {downRed.map(([i, v]) => (
            <ReferenceDot key={`dr${i}`} x={i} y={toPrice(v)} shape={triangle("#b11f2c", 20, 17, true)} />
          ))}
          {upDark.map(([i, v]) => (
            <ReferenceDot key={`ud${i}`} x={i} y={toPrice(v)} shape={triangle("#4e9f7a", 20, 17, false)} />
          ))}
          {upLight.map(([i, v]) => (
            <ReferenceDot key={`ul${i}`} x={i} y={toPrice(v)} shape={triangle("#7fd08a", 20, 17, false)} />
          ))}
          <ReferenceDot x={68} y={1.0682} shape={triangle("#2479cc", 33, 31, false)} />
          <ReferenceDot x={263} y={1.0982} shape={triangle("#d98a0e", 33, 32, true)} />
          {beSellTips.map(([i, v]) => (
            <ReferenceDot key={`bs${i}`} x={i} y={toPrice(v)} ifOverflow="visible" shape={beLabel("#f23645", true)} />
          ))}
          {beBuyTips.map(([i, v]) => (
            <ReferenceDot key={`bb${i}`} x={i} y={toPrice(v)} ifOverflow="visible" shape={beLabel("#2962ff", false)} />
          ))}
          {countLabels.map(([i, v, t]) => (
            <ReferenceDot
              key={`c${i}${t}`}
              x={i}
              y={toPrice(v)}
              shape={(p: any) => (
                <text x={p.cx} y={p.cy + 9} textAnchor="middle" fontFamily={FONT} fontSize={25} fill="#f0f0f0">
                  {t}
                </text>
              )}
            />
          ))}
          <ReferenceDot x={X_MAX} y={1.0909} ifOverflow="visible" shape={priceTag("1.0909", "#2962ff", "#fff", 114, 36)} />
          <ReferenceDot x={X_MAX} y={1.0637} ifOverflow="visible" shape={priceTag("1.0637", "#ce93d8", "#131722", 114, 36)} />
        </ComposedChart>
      </div>

      {/* squeeze pane with the time axis */}
      <div style={{ position: "absolute", left: 20, top: 1736 }}>
        <ComposedChart width={CHART_W} height={263} data={rows} margin={noMargin}>
          <XAxis
            type="number"
            dataKey="i"
            domain={[X_MIN, X_MAX]}
            allowDataOverflow
            ticks={monthTicks}
            interval={0}
            height={56}
            axisLine={false}
            tickLine={false}
            tickMargin={14}
            tick={MonthTick}
          />
          <YAxis
            orientation="right"
            width={AXIS_W}
            domain={[-0.641, 0.629]}
            allowDataOverflow
            ticks={squeezeTicks}
            interval={0}
            axisLine={false}
            tickLine={false}
            tickMargin={20}
            tick={axisTick}
            tickFormatter={(v: number) => minus(v.toFixed(2))}
          />
          <Line dataKey="zero" stroke="none" dot={SqueezeDot} isAnimationActive={false} />
        </ComposedChart>
      </div>

      {/* pane separators and the corner of the axes */}
      <div style={{ position: "absolute", left: 3698, top: 1943, width: 121, height: 56, background: PANEL }} />
      <div style={{ position: "absolute", left: 20, top: 481, width: 3799, height: 2, background: LINE }} />
      <div style={{ position: "absolute", left: 20, top: 1735, width: 3799, height: 2, background: LINE }} />
      <div style={{ position: "absolute", left: 20, top: 1942, width: 3799, height: 2, background: LINE }} />
      <div style={{ position: "absolute", left: 3698, top: 54, width: 2, height: 1945, background: LINE }} />
      <div style={{ position: "absolute", left: 20, top: 54, width: 3799, height: 1945, boxSizing: "border-box", border: `2px solid ${LINE}` }} />

      <Logo />
      <div style={{ position: "absolute", left: 68, top: 2022, fontSize: 25.3, fontWeight: 500, color: "#e8e8e8" }}>TradingView</div>
      <div style={{ position: "absolute", left: 37, top: 501, fontSize: 24, color: AXIS_TEXT, whiteSpace: "nowrap" }}>EURUSD · 1D · FXCM</div>
    </div>
  );
}
